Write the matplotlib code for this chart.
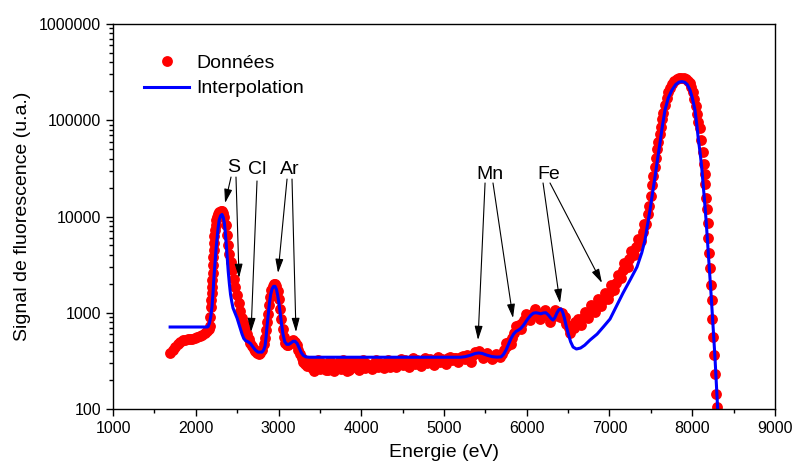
import numpy as np
import matplotlib
matplotlib.use("Agg")
import matplotlib.pyplot as plt
from matplotlib.ticker import FixedLocator, LogLocator, MultipleLocator, NullFormatter

plt.rcParams['font.family'] = ['Liberation Sans', 'DejaVu Sans']

# measured data (energy in eV, signal in a.u.)
data_e = [1690, 1720, 1750, 1780, 1810, 1840, 1870, 1900, 1930, 1960, 1990, 2020, 2050, 2080, 2110, 2140, 2160,
          2172, 2176, 2184, 2188, 2194, 2196, 2200, 2204, 2208, 2212, 2216, 2220, 2226, 2233, 2240, 2248, 2258,
          2270, 2285, 2300, 2315, 2330, 2345, 2360, 2375, 2390, 2405, 2420, 2440, 2460, 2480, 2500, 2520, 2540,
          2560, 2580, 2600, 2620, 2640, 2660, 2680, 2700, 2720, 2740, 2760, 2780, 2800, 2820, 2835, 2850, 2862,
          2874, 2886, 2900, 2915, 2930, 2945, 2960, 2975, 2990, 3005, 3020, 3035, 3050, 3065, 3080, 3100, 3120,
          3140, 3160, 3180, 3200, 3220, 3240, 3260, 3280, 3300, 3320, 3350,
          3400, 3450, 3500, 3550, 3600, 3650, 3700, 3750, 3800, 3850, 3900, 3950, 4000, 4050, 4100, 4150, 4200,
          4250, 4300, 4350, 4400, 4450, 4500, 4550, 4600, 4650, 4700, 4750, 4800, 4850, 4900, 4950, 5000, 5050,
          5100, 5150, 5200, 5250, 5300, 5350, 5400, 5450, 5500, 5550, 5600, 5650, 5700,
          5730, 5760, 5790, 5820, 5850, 5880, 5910, 5940, 5970, 6000, 6030, 6060, 6090, 6120, 6150, 6180, 6210,
          6240, 6270, 6300, 6330, 6360, 6390, 6420, 6450, 6480, 6510, 6540, 6570, 6600, 6640, 6680, 6720, 6760,
          6800, 6840, 6880, 6920, 6960, 7000, 7040, 7080, 7120, 7160, 7200, 7240, 7280, 7320, 7360, 7400, 7430,
          7460, 7480, 7500, 7515, 7530, 7545, 7560, 7575, 7590, 7605, 7620, 7635, 7650, 7670, 7690, 7710, 7730,
          7755, 7780, 7810, 7840, 7870, 7900, 7925, 7950, 7970, 7990, 8010, 8025, 8040, 8055, 8070,
          8090, 8110, 8130, 8142, 8150, 8160, 8172, 8181, 8188, 8195, 8203, 8213, 8222, 8233, 8243, 8255, 8263,
          8275, 8290, 8303]
data_s = [380, 410, 440, 470, 500, 515, 525, 530, 535, 540, 545, 555, 570, 590, 610, 640, 670,
          720, 904, 1150, 1355, 1600, 1850, 2200, 2590, 3100, 3800, 4500, 5300, 6200, 7250, 8200, 9200, 10000,
          10700, 11200, 11400, 11400, 11000, 10000, 8200, 6500, 5100, 4100, 3400, 2750, 2250, 1850, 1520, 1260, 1050,
          890, 770, 670, 600, 540, 490, 455, 425, 400, 385, 375, 385, 415, 470, 550, 660, 800,
          980, 1200, 1450, 1720, 1900, 2000, 2000, 1900, 1700, 1400, 1100, 860, 680, 560, 490, 460, 460,
          480, 510, 520, 500, 460, 410, 370, 340, 310, 290, 280,
          265, 290, 260, 280, 255, 270, 285, 260, 275, 255, 280, 265, 285, 265, 280, 295, 270,
          285, 300, 275, 290, 305, 285, 300, 315, 295, 310, 320, 300, 315, 330, 310, 325, 340,
          320, 335, 345, 330, 350, 365, 385, 375, 360, 350, 345, 355, 375,
          410, 450, 500, 550, 610, 680, 740, 790, 840, 890, 930, 960, 975, 980, 975, 965, 955,
          945, 925, 900, 920, 970, 1030, 990, 870, 760, 700, 690, 700, 740, 800, 880, 950, 1030,
          1110, 1190, 1270, 1370, 1480, 1620, 1800, 2050, 2350, 2750, 3150, 3600, 4150, 4800, 5700, 6900, 8200,
          10500, 13000, 16500, 21000, 26500, 33000, 41000, 50000, 60000, 72000, 86000, 102000, 120000, 145000,
          170000, 195000, 218000,
          240000, 258000, 270000, 276000, 278000, 276000, 270000, 258000, 243000, 222000, 195000, 165000, 140000,
          115000, 97000,
          84000, 62000, 46500, 35000, 27500, 21700, 15700, 11900, 8600, 6000, 4180, 2920, 1940, 1355, 870, 560, 360,
          232, 143, 104]

# extra measured points where the data band is noisy / thick
noise_e = [3375, 3425, 3475, 3525, 3575, 3625, 3675, 3725, 3775, 3825, 3875, 3925, 3975, 4025, 4075, 4125,
           4175, 4225, 4275, 4325, 4375, 4425, 4475, 4525, 4575, 4625, 4675, 4725, 4775, 4825, 4875, 4925,
           4975, 5025, 5075, 5125, 5175, 5225, 5275, 5325, 5375, 5425, 5475, 5525, 5575, 5625, 5675,
           5745, 5805, 5865, 5925, 5985, 6045, 6105, 6165, 6225, 6285, 6345, 6405, 6465, 6525, 6585,
           6620, 6660, 6700, 6740, 6780, 6820, 6860, 6900, 6940, 6980, 7020, 7060, 7100, 7140, 7180, 7220,
           7260, 7300, 7340, 7380, 7415, 7445]
noise_s = [315, 250, 320, 300, 255, 315, 250, 310, 320, 250, 305, 310, 255, 320, 295, 260,
           320, 300, 265, 325, 310, 270, 330, 320, 275, 335, 320, 280, 335, 330, 285, 345,
           330, 290, 350, 340, 305, 355, 360, 310, 390, 400, 340, 385, 330, 370, 345,
           480, 470, 720, 680, 970, 840, 1090, 870, 1060, 810, 1060, 900, 910, 620, 800,
           860, 750, 1020, 880, 1200, 1020, 1380, 1170, 1600, 1380, 1920, 1710, 2460, 2270, 3300, 3000,
           4330, 3980, 5880, 5600, 8400, 8300]

# interpolated curve
fit_e = [1690, 2140, 2150, 2165, 2180, 2196, 2210, 2222, 2233, 2245, 2257, 2270, 2283, 2300, 2317, 2332, 2345,
         2357, 2368, 2378, 2392, 2406, 2420, 2435, 2450, 2475, 2499, 2530, 2559, 2580, 2600, 2630, 2660, 2692,
         2720, 2752, 2800, 2820, 2837, 2850, 2861, 2875, 2890, 2905, 2922, 2940, 2958, 2975, 2990, 3005, 3020,
         3035, 3054, 3075, 3100, 3125, 3150, 3175, 3200, 3225, 3250, 3275, 3300, 3330, 3370,
         5200, 5260, 5320, 5380, 5420, 5460, 5520, 5580, 5640, 5690, 5720, 5750, 5780, 5810, 5840, 5870, 5900,
         5930, 5960, 5990, 6020, 6050, 6080, 6110, 6140, 6170, 6200, 6230, 6260, 6290, 6317, 6340, 6366, 6390,
         6414, 6435, 6455, 6475, 6499, 6530, 6560, 6600, 6650, 6700, 6765, 6850, 6930, 7006, 7080, 7163, 7250,
         7332, 7390, 7429, 7460, 7490, 7520, 7550, 7580, 7610, 7640, 7671, 7710, 7755, 7800, 7840, 7876, 7910,
         7940, 7973, 8000, 8033, 8055, 8075, 8095, 8115, 8135, 8155, 8170, 8185, 8200, 8215, 8230, 8245, 8260,
         8275, 8290, 8305, 8315]
fit_s = [711, 711, 720, 780, 900, 1150, 1700, 2500, 3400, 4600, 5900, 7600, 9200, 10200, 10500, 9800, 8600,
         6800, 5200, 3900, 2700, 2000, 1550, 1300, 1120, 990, 880, 720, 600, 540, 515, 500, 480, 440,
         410, 390, 390, 410, 450, 560, 720, 950, 1250, 1550, 1770, 1880, 1880, 1750, 1520, 1250, 1000,
         780, 600, 500, 470, 470, 485, 505, 505, 480, 430, 385, 360, 348, 345,
         345, 350, 362, 378, 382, 378, 362, 350, 346, 348, 370, 410, 470, 540, 600, 640, 660,
         690, 740, 810, 880, 945, 990, 1000, 990, 975, 995, 1000, 950, 880, 840, 890, 1000, 1080,
         1095, 1010, 880, 740, 615, 500, 440, 420, 430, 460, 521, 600, 720, 860, 1150, 1600, 2200,
         2990, 4200, 5700, 8200, 11700, 17500, 25700, 39000, 58000, 88000, 128000, 170000, 206000, 235000, 249000,
         252000, 248000,
         235000, 206000, 172000, 128000, 90000, 62000, 46000, 32000, 20000, 12500, 8500, 5500, 3500, 2300, 1450,
         900, 560, 340, 190, 105, 75]

# element labels and arrows: (text, x, y), arrows as (tail x, tail y, tip x, tip y)
labels = [("S", 2453, 32000), ("Cl", 2744, 31000), ("Ar", 3139, 31000), ("Mn", 5556, 27000), ("Fe", 6260, 27000)]
arrows = [(2426, 25700, 2354, 13800), (2486, 25700, 2523, 2300),
          (2740, 23400, 2668, 630),
          (3103, 24500, 2994, 2590), (3163, 24500, 3211, 630),
          (5496, 22300, 5411, 521), (5592, 22300, 5834, 880),
          (6197, 22300, 6402, 1260), (6281, 22300, 6909, 2040)]

ytick_vals = [100, 1000, 10000, 100000, 1000000]
ytick_labels = ["100", "1000", "10000", "100000", "1000000"]

fig = plt.figure(figsize=(7.96, 4.70), dpi=100)
ax = fig.add_axes([0.142, 0.1298, 0.8316, 0.8191])

ax.plot(data_e + noise_e, data_s + noise_s, 'o', color='#ff0000', markersize=7.8, markeredgewidth=0,
        label="Données")
ax.plot(fit_e, fit_s, '-', color='#0000ff', lw=2.2, label="Interpolation")

for txt, x, y in labels:
    ax.text(x, y, txt, fontsize=14, ha='center', va='center')
for x0, y0, x1, y1 in arrows:
    ax.annotate('', xy=(x1, y1), xytext=(x0, y0),
                arrowprops=dict(arrowstyle='-|>,head_length=0.7,head_width=0.2', color='black', lw=0.8,
                                shrinkA=0, shrinkB=0, mutation_scale=12))

ax.set_yscale('log')
ax.set_xlim(1000, 9000)
ax.set_ylim(100, 1000000)
ax.xaxis.set_major_locator(MultipleLocator(1000))
ax.xaxis.set_minor_locator(MultipleLocator(500))
ax.yaxis.set_major_locator(FixedLocator(ytick_vals))
ax.set_yticklabels(ytick_labels)
ax.yaxis.set_minor_locator(LogLocator(base=10, subs=np.arange(2, 10)))
ax.yaxis.set_minor_formatter(NullFormatter())
ax.tick_params(which='both', direction='out', top=False, right=False, labelsize=11.5, width=1)
ax.tick_params(which='major', length=5)
ax.tick_params(which='minor', length=3)
for s in ax.spines.values():
    s.set_linewidth(1.0)

ax.set_xlabel("Energie (eV)", fontsize=14, labelpad=6)
ax.set_ylabel("Signal de fluorescence (u.a.)", fontsize=14, labelpad=6)

ax.legend(loc='upper left', bbox_to_anchor=(0.047, 0.922), frameon=False, fontsize=14,
          borderpad=0, borderaxespad=0, handlelength=2.3, handletextpad=0.4, labelspacing=0.42, numpoints=1)

plt.savefig("out.png", dpi=100)
